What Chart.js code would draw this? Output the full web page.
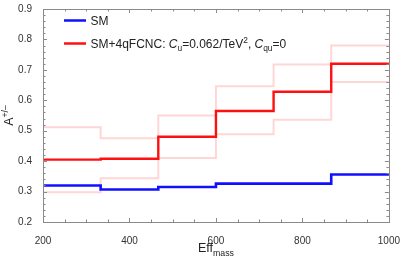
<!DOCTYPE html>
<html>
<head>
<meta charset="utf-8">
<script src="https://cdn.jsdelivr.net/npm/chart.js@4"></script>
<style>
html,body{margin:0;padding:0;background:#fff;}
#wrap{width:405px;height:265px;}
</style>
</head>
<body>
<div id="wrap"><canvas id="c" width="405" height="265"></canvas></div>
<script>
// ---- data ----
const binEdges = [200, 333.33, 466.67, 600, 733.33, 866.67, 1000];
const smValues = [0.320, 0.307, 0.315, 0.326, 0.326, 0.356];
const fcncValues = [0.405, 0.408, 0.480, 0.565, 0.628, 0.720];
const fcncUpper = [0.511, 0.475, 0.550, 0.646, 0.718, 0.780];
const fcncLower = [0.298, 0.344, 0.410, 0.488, 0.536, 0.660];
const xTicks = [200, 400, 600, 800, 1000];
const yTicks = [0.2, 0.3, 0.4, 0.5, 0.6, 0.7, 0.8, 0.9];

const FONT = "'Liberation Sans', Arial, sans-serif";

function stepPoints(vals) {
  const pts = vals.map((v, i) => ({x: binEdges[i], y: v}));
  pts.push({x: binEdges[binEdges.length - 1], y: vals[vals.length - 1]});
  return pts;
}

function drawRich(ctx, parts, x, y, size, align) {
  const widths = parts.map(p => {
    const s = (p.sub || p.sup) ? size * 0.7 : size;
    ctx.font = (p.it ? 'italic ' : '') + s + 'px ' + FONT;
    return ctx.measureText(p.t).width;
  });
  const total = widths.reduce((a, b) => a + b, 0);
  let cx = align === 'center' ? x - total / 2 : x;
  parts.forEach((p, i) => {
    const s = (p.sub || p.sup) ? size * 0.7 : size;
    ctx.font = (p.it ? 'italic ' : '') + s + 'px ' + FONT;
    let dy = 0;
    if (p.sub) dy = size * 0.28;
    if (p.sup) dy = -size * 0.4;
    ctx.fillText(p.t, cx, y + dy);
    cx += widths[i];
  });
  return total;
}

const framePlugin = {
  id: 'frame',
  afterDraw(chart) {
    const ctx = chart.ctx;
    const a = chart.chartArea;
    const xs = chart.scales.x, ys = chart.scales.y;
    ctx.save();
    ctx.strokeStyle = '#8a8a8a';
    ctx.lineWidth = 1;
    ctx.strokeRect(Math.round(a.left) + 0.5, Math.round(a.top) + 0.5,
                   Math.round(a.right - a.left), Math.round(a.bottom - a.top));
    ctx.beginPath();
    for (let v = xs.min; v <= xs.max + 1e-6; v += 50) {
      const px = Math.round(xs.getPixelForValue(v)) + 0.5;
      const len = (Math.round(v) % 200 === 0) ? 4 : 2.5;
      ctx.moveTo(px, a.bottom); ctx.lineTo(px, a.bottom - len);
      ctx.moveTo(px, a.top); ctx.lineTo(px, a.top + len);
    }
    for (let i = 10; i <= 45; i++) {
      const v = i / 50;
      const py = Math.round(ys.getPixelForValue(v)) + 0.5;
      const len = (i % 5 === 0) ? 4 : 2.5;
      ctx.moveTo(a.left, py); ctx.lineTo(a.left + len, py);
      ctx.moveTo(a.right, py); ctx.lineTo(a.right - len, py);
    }
    ctx.stroke();

    // legend
    ctx.textBaseline = 'alphabetic';
    ctx.fillStyle = '#222';
    ctx.lineWidth = 2.5;
    ctx.strokeStyle = '#1010ff';
    ctx.beginPath(); ctx.moveTo(64, 20.5); ctx.lineTo(86, 20.5); ctx.stroke();
    drawRich(ctx, [{t: 'SM'}], 90.5, 24.8, 12, 'left');
    ctx.strokeStyle = '#ff1010';
    ctx.beginPath(); ctx.moveTo(64, 43.5); ctx.lineTo(86, 43.5); ctx.stroke();
    drawRich(ctx, [
      {t: 'SM+4qFCNC: '}, {t: 'C', it: true}, {t: 'u', sub: true},
      {t: '=0.062/TeV'}, {t: '2', sup: true}, {t: ', '},
      {t: 'C', it: true}, {t: 'qu', sub: true}, {t: '=0'}
    ], 90.5, 47.8, 12, 'left');

    // axis titles
    const cxm = (a.left + a.right) / 2;
    drawRich(ctx, [{t: 'Eff'}, {t: 'mass', sub: true}], cxm, 252, 12.5, 'center');
    ctx.save();
    ctx.translate(13, (a.top + a.bottom) / 2);
    ctx.rotate(-Math.PI / 2);
    drawRich(ctx, [{t: 'A'}, {t: '+/\u2013', sup: true}], 0, 0, 12.5, 'center');
    ctx.restore();
    ctx.restore();
  }
};

const lineDs = (data, color, width, order) => ({
  data: stepPoints(data),
  borderColor: color,
  borderWidth: width,
  stepped: 'before',
  pointRadius: 0,
  fill: false,
  order: order
});

new Chart(document.getElementById('c'), {
  type: 'line',
  data: {
    datasets: [
      lineDs(smValues, '#1010ff', 2.6, 0),
      lineDs(fcncValues, '#ff1010', 2.4, 1),
      lineDs(fcncUpper, '#ffd6d6', 2, 2),
      lineDs(fcncLower, '#ffd6d6', 2, 3)
    ]
  },
  options: {
    responsive: false,
    animation: false,
    layout: {padding: {left: 0, right: 13, top: 5, bottom: 0}},
    plugins: {legend: {display: false}, tooltip: {enabled: false}},
    scales: {
      x: {
        type: 'linear', min: 200, max: 1000,
        grid: {display: false}, border: {display: false},
        afterBuildTicks: s => { s.ticks = xTicks.map(v => ({value: v})); },
        afterFit: s => { s.height = 43; },
        ticks: {padding: 5, color: '#333', font: {family: FONT, size: 10},
                maxRotation: 0, autoSkip: false, callback: v => String(v)}
      },
      y: {
        min: 0.2, max: 0.9,
        grid: {display: false}, border: {display: false},
        afterBuildTicks: s => { s.ticks = yTicks.map(v => ({value: v})); },
        afterFit: s => { s.width = 43; },
        ticks: {padding: 3, color: '#333', font: {family: FONT, size: 10},
                callback: v => v.toFixed(1)}
      }
    }
  },
  plugins: [framePlugin]
});
</script>
</body>
</html>
